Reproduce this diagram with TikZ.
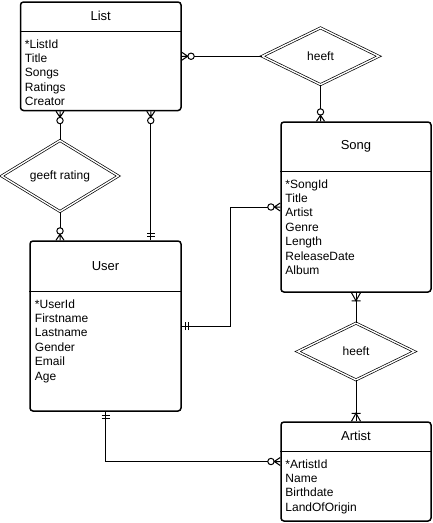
\documentclass[tikz,border=0pt]{standalone}
\usepackage{fontspec}
\setmainfont{Liberation Sans}
\usetikzlibrary{arrows.meta, shapes.geometric, calc}

% zero or many: crow's foot with a circle
\pgfdeclarearrow{
  name = zeromany,
  setup code = {
    \pgfarrowssettipend{0pt}
    \pgfarrowssetlineend{-12.5pt}
    \pgfarrowssetbackend{-12.5pt}
    \pgfarrowssetvisualbackend{-12.5pt}
    \pgfarrowshullpoint{0pt}{4pt}
    \pgfarrowshullpoint{0pt}{-4pt}
    \pgfarrowshullpoint{-12.5pt}{0pt}
  },
  drawing code = {
    \pgfsetdash{}{0pt}
    \pgfpathmoveto{\pgfpoint{0pt}{4pt}}
    \pgfpathlineto{\pgfpoint{-6pt}{0pt}}
    \pgfpathlineto{\pgfpoint{0pt}{-4pt}}
    \pgfpathmoveto{\pgfpoint{0pt}{0pt}}
    \pgfpathlineto{\pgfpoint{-6pt}{0pt}}
    \pgfusepathqstroke
    \pgfpathcircle{\pgfpoint{-9.3pt}{0pt}}{3.2pt}
    \pgfusepathqstroke
  }
}
% exactly one: two bars
\pgfdeclarearrow{
  name = onlyone,
  setup code = {
    \pgfarrowssettipend{0pt}
    \pgfarrowssetlineend{0pt}
    \pgfarrowssetbackend{-8pt}
    \pgfarrowssetvisualbackend{-8pt}
    \pgfarrowshullpoint{0pt}{4pt}
    \pgfarrowshullpoint{0pt}{-4pt}
    \pgfarrowshullpoint{-8pt}{4pt}
    \pgfarrowshullpoint{-8pt}{-4pt}
  },
  drawing code = {
    \pgfsetdash{}{0pt}
    \pgfpathmoveto{\pgfpoint{-4pt}{4pt}}
    \pgfpathlineto{\pgfpoint{-4pt}{-4pt}}
    \pgfpathmoveto{\pgfpoint{-7pt}{4pt}}
    \pgfpathlineto{\pgfpoint{-7pt}{-4pt}}
    \pgfusepathqstroke
  }
}
% one or many: crow's foot with a bar
\pgfdeclarearrow{
  name = onemany,
  setup code = {
    \pgfarrowssettipend{0pt}
    \pgfarrowssetlineend{0pt}
    \pgfarrowssetbackend{-8pt}
    \pgfarrowssetvisualbackend{-8pt}
    \pgfarrowshullpoint{0pt}{4.5pt}
    \pgfarrowshullpoint{0pt}{-4.5pt}
    \pgfarrowshullpoint{-8pt}{4.5pt}
    \pgfarrowshullpoint{-8pt}{-4.5pt}
  },
  drawing code = {
    \pgfsetdash{}{0pt}
    \pgfpathmoveto{\pgfpoint{0pt}{4.5pt}}
    \pgfpathlineto{\pgfpoint{-8pt}{0pt}}
    \pgfpathlineto{\pgfpoint{0pt}{-4.5pt}}
    \pgfpathmoveto{\pgfpoint{-8pt}{4.5pt}}
    \pgfpathlineto{\pgfpoint{-8pt}{-4.5pt}}
    \pgfusepathqstroke
  }
}

\tikzset{
  entity/.style={draw, rounded corners=3pt, line width=1.5pt, fill=white, inner sep=0pt},
  divider/.style={line width=1.2pt},
  entitytitle/.style={font=\fontsize{13}{15}\selectfont},
  attrs/.style={anchor=north west, align=left, inner sep=0pt, font=\fontsize{12}{14.4}\selectfont},
  relation/.style={draw, diamond, double, double distance=1.4pt, line width=0.7pt, fill=white,
    minimum width=117pt, minimum height=57pt, inner sep=0pt, font=\fontsize{12}{14}\selectfont},
  conn/.style={line width=1pt}
}

\begin{document}
\begin{tikzpicture}[x=1pt, y=-1pt]
  \useasboundingbox (0,0) rectangle (432,523);

  % List
  \node[entity, minimum width=160.5pt, minimum height=108.5pt] (list) at (100.75,56.25) {};
  \draw[divider] ([yshift=-30pt]list.north west) -- ([yshift=-30pt]list.north east);
  \node[entitytitle] (listtitle) at ([yshift=-15pt]list.north) {List};
  \node[attrs] (listattrs) at ([shift={(5pt,-38pt)}]list.north west) {*ListId\\Title\\Songs\\Ratings\\Creator};

  % Song
  \node[entity, minimum width=150pt, minimum height=170pt] (song) at (356,207) {};
  \draw[divider] ([yshift=-50pt]song.north west) -- ([yshift=-50pt]song.north east);
  \node[entitytitle] (songtitle) at ([yshift=-25pt]song.north) {Song};
  \node[attrs] (songattrs) at ([shift={(5pt,-58pt)}]song.north west) {*SongId\\Title\\Artist\\Genre\\Length\\ReleaseDate\\Album};

  % User
  \node[entity, minimum width=151pt, minimum height=170pt] (user) at (105.5,326) {};
  \draw[divider] ([yshift=-51pt]user.north west) -- ([yshift=-51pt]user.north east);
  \node[entitytitle] (usertitle) at ([yshift=-25.5pt]user.north) {User};
  \node[attrs] (userattrs) at ([shift={(5.5pt,-59pt)}]user.north west) {*UserId\\Firstname\\Lastname\\Gender\\Email\\Age};

  % Artist
  \node[entity, minimum width=150pt, minimum height=99pt] (artist) at (356,471.5) {};
  \draw[divider] ([yshift=-30pt]artist.north west) -- ([yshift=-30pt]artist.north east);
  \node[entitytitle] (artisttitle) at ([yshift=-15pt]artist.north) {Artist};
  \node[attrs] (artistattrs) at ([shift={(5pt,-38pt)}]artist.north west) {*ArtistId\\Name\\Birthdate\\LandOfOrigin};

  % relations
  \node[relation] (heeftlist) at (320.5,56.25) {heeft};
  \node[relation] (rating) at (60,176) {geeft rating};
  \node[relation] (heeftartist) at (356,351.5) {heeft};

  % connectors
  \draw[conn, zeromany-] (list.east) -- (list.east -| heeftlist.west);
  \draw[conn, -zeromany] (heeftlist.south) -- (heeftlist.south |- song.north);
  \draw[conn, zeromany-] (rating.north |- list.south) -- (rating.north);
  \draw[conn, -zeromany] (rating.south) -- (rating.south |- user.north);
  \draw[conn, zeromany-onlyone] ([xshift=-31pt]list.south east) -- ([xshift=-31pt]list.south east |- user.north);
  \draw[conn, onlyone-zeromany] (user.east) -- ++(49pt,0pt) |- (song.west);
  \draw[conn, onemany-] (song.south) -- (heeftartist.north);
  \draw[conn, -onemany] (heeftartist.south) -- (artist.north);
  \draw[conn, onlyone-zeromany] (user.south) |- ([yshift=10pt]artist.west);
\end{tikzpicture}
\end{document}
